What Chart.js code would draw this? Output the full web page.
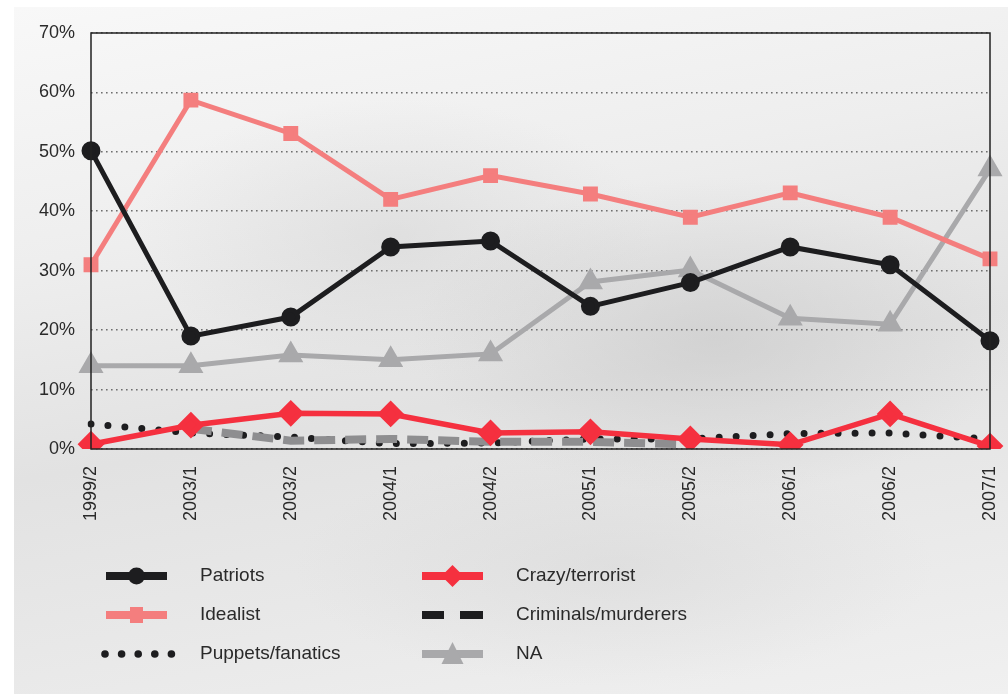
<!DOCTYPE html>
<html><head><meta charset="utf-8">
<script src="https://cdn.jsdelivr.net/npm/chart.js@4"></script>
<style>
html,body{margin:0;padding:0;background:#fff;}
#bg{position:absolute;left:14px;top:7px;width:994px;height:687px;
background:
 radial-gradient(ellipse 300px 160px at 700px 330px, rgba(190,190,190,0.45), rgba(190,190,190,0) 100%),
 radial-gradient(ellipse 260px 140px at 380px 230px, rgba(200,200,200,0.35), rgba(200,200,200,0) 100%),
 radial-gradient(ellipse 320px 120px at 600px 560px, rgba(205,205,205,0.35), rgba(205,205,205,0) 100%),
 linear-gradient(170deg,#f8f8f8 0%,#eeeeee 30%,#e2e2e2 55%,#e8e8e8 75%,#f0f0f0 100%);}
#wrap{position:absolute;left:0;top:0;width:1008px;height:694px;}
</style></head>
<body>
<div id="bg"></div>
<div id="wrap"><canvas id="c" width="1008" height="694"></canvas></div>
<script>
const categories = ["1999/2","2003/1","2003/2","2004/1","2004/2","2005/1","2005/2","2006/1","2006/2","2007/1"];
const patriots  = [50.2, 19, 22.2, 34, 35, 24, 28, 34, 31, 18.2];
const idealist  = [31, 58.7, 53.1, 42, 46, 42.9, 39, 43.1, 39, 32];
const puppets   = [4.2, 2.7, 2.0, 0.9, 1.0, 1.7, 1.7, 2.6, 2.7, 1.7];
const crazy     = [0.8, 4.0, 6.0, 5.9, 2.7, 2.9, 1.7, 0.7, 5.9, 0.5];
const criminals = [null, 3.4, 1.4, 1.7, 1.2, 1.2, 0.8, null, null, null];
const na        = [14, 14, 15.8, 15, 16, 28.1, 30.1, 22, 21, 47.1];
const yTicks = [0,10,20,30,40,50,60,70];

const FONT = '"Liberation Sans", Arial, Helvetica, sans-serif';

const frame = {
  id:'frame',
  afterDatasetsDraw(chart){
    const {ctx, chartArea:a} = chart;
    ctx.save(); ctx.strokeStyle='#222'; ctx.lineWidth=1.5;
    ctx.strokeRect(a.left, a.top, a.right-a.left, a.bottom-a.top);
    ctx.restore();
  }
};

const legendItems = [
  {label:'Patriots', col:0,row:0, color:'#1d1d1f', marker:'circle', dash:null},
  {label:'Idealist', col:0,row:1, color:'#f47e7e', marker:'square', dash:null},
  {label:'Puppets/fanatics', col:0,row:2, color:'#1d1d1f', marker:null, dash:'dots'},
  {label:'Crazy/terrorist', col:1,row:0, color:'#f5303f', marker:'diamond', dash:null},
  {label:'Criminals/murderers', col:1,row:1, color:'#1d1d1f', marker:null, dash:'dash'},
  {label:'NA', col:1,row:2, color:'#a9a9ab', marker:'triangle', dash:null}
];
const customLegend = {
  id:'customLegend',
  afterDraw(chart){
    const ctx = chart.ctx;
    const colX = [106, 422], textX = [200, 516], rowY = [576, 615, 654];
    ctx.save();
    legendItems.forEach(it=>{
      const x0 = colX[it.col], y = rowY[it.row], w = 61, cx = x0+w/2;
      ctx.strokeStyle = it.color; ctx.fillStyle = it.color;
      if (it.dash==='dots'){
        for(let i=0;i<5;i++){ ctx.beginPath(); ctx.arc(x0-1+i*16.6,y,3.8,0,Math.PI*2); ctx.fill(); }
      } else if (it.dash==='dash'){
        ctx.fillRect(x0,y-4,22,8); ctx.fillRect(x0+38,y-4,23,8);
      } else {
        ctx.fillRect(x0,y-4,w,8);
        ctx.beginPath();
        if(it.marker==='circle'){ ctx.arc(cx,y,8.5,0,Math.PI*2); }
        else if(it.marker==='square'){ ctx.rect(cx-6.5,y-8,13,16); }
        else if(it.marker==='diamond'){ ctx.moveTo(cx,y-11); ctx.lineTo(cx+11,y); ctx.lineTo(cx,y+11); ctx.lineTo(cx-11,y); ctx.closePath(); }
        else if(it.marker==='triangle'){ ctx.moveTo(cx,y-12); ctx.lineTo(cx+11,y+10); ctx.lineTo(cx-11,y+10); ctx.closePath(); }
        ctx.fill();
      }
      ctx.fillStyle='#2a2a2a'; ctx.font='19px '+FONT; ctx.textBaseline='middle'; ctx.textAlign='left';
      ctx.fillText(it.label, textX[it.col], y);
    });
    ctx.restore();
  }
};

new Chart(document.getElementById('c'), {
  type:'line',
  data:{
    labels: categories,
    datasets:[
      {label:'Patriots', data:patriots, borderColor:'#1d1d1f', backgroundColor:'#1d1d1f', borderWidth:5,
       pointStyle:'circle', pointRadius:7, order:1},
      {label:'Crazy/terrorist', data:crazy, borderColor:'#f5303f', backgroundColor:'#f5303f', borderWidth:5.5,
       pointStyle:'rectRot', pointRadius:9.5, order:2},
      {label:'Idealist', data:idealist, borderColor:'#f47e7e', backgroundColor:'#f47e7e', borderWidth:5,
       pointStyle:'rect', pointRadius:7, order:3},
      {label:'NA', data:na, borderColor:'#a9a9ab', backgroundColor:'#a9a9ab', borderWidth:5,
       pointStyle:'triangle', pointRadius:9.5, order:4},
      {label:'Criminals/murderers', data:criminals, borderColor:'#8e8e90', backgroundColor:'#8e8e90', borderWidth:8,
       borderDash:[21,10], pointRadius:0, spanGaps:false, order:5},
      {label:'Puppets/fanatics', data:puppets, borderColor:'#1d1d1f', backgroundColor:'#1d1d1f', borderWidth:7,
       borderDash:[0,17], borderCapStyle:'round', pointRadius:0, order:6}
    ]
  },
  options:{
    responsive:false, animation:false,
    layout:{padding:{left:29, top:33, right:18, bottom:145}},
    plugins:{legend:{display:false}, tooltip:{enabled:false}},
    elements:{line:{tension:0}, point:{borderWidth:0}},
    scales:{
      x:{offset:false, grid:{display:false, drawTicks:false}, border:{display:false},
         ticks:{color:'#2a2a2a', font:{family:FONT, size:18}, minRotation:90, maxRotation:90, padding:17},
         afterFit(s){ s.height = 100; s.paddingLeft = 0; s.paddingRight = 0; }},
      y:{min:0, max:70, afterBuildTicks(ax){ ax.ticks = yTicks.map(v=>({value:v})); },
         grid:{color:'#6e6e6e', lineWidth:1.6, drawTicks:false},
         border:{display:false, dash:[1.6,3.4]},
         ticks:{color:'#2a2a2a', font:{family:FONT, size:18}, padding:16, callback:v=>v+'%'},
         afterFit(s){ s.width = 62; s.paddingTop = 0; s.paddingBottom = 0; }}
    }
  },
  plugins:[frame, customLegend]
});
</script>
</body></html>
